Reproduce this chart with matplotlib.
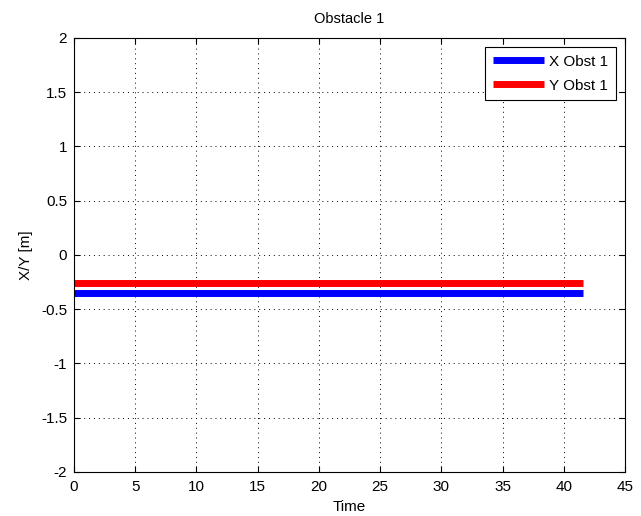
import matplotlib
matplotlib.use("Agg")
import matplotlib.pyplot as plt

plt.rcParams['font.family'] = ['Liberation Sans', 'DejaVu Sans']

t_range = [0, 41.6]
x_obst = [-0.35, -0.35]
y_obst = [-0.26, -0.26]
labels = ["X Obst 1", "Y Obst 1"]
xticks = [0, 5, 10, 15, 20, 25, 30, 35, 40, 45]
yticks = [-2, -1.5, -1, -0.5, 0, 0.5, 1, 1.5, 2]
ytick_labels = ["-2", "-1.5", "-1", "-0.5", "0", "0.5", "1", "1.5", "2"]

fig = plt.figure(figsize=(6.41, 5.16), dpi=100)
ax = fig.add_axes([0.1154, 0.0853, 0.8596, 0.8411])
ax.plot(t_range, x_obst, color='#0000ff', linewidth=5, solid_capstyle='butt', label=labels[0])
ax.plot(t_range, y_obst, color='#ff0000', linewidth=5, solid_capstyle='butt', label=labels[1])
ax.set_xlim(0, 45)
ax.set_ylim(-2, 2)
ax.set_xticks(xticks)
ax.set_yticks(yticks)
ax.set_yticklabels(ytick_labels)
ax.grid(True, color='black', linestyle=(0, (1, 4)), linewidth=0.7)
ax.tick_params(direction='in', labelsize=11, top=True, right=True, length=4)
ax.tick_params(axis='x', pad=6)
ax.tick_params(axis='y', pad=5)
for s in ax.spines.values():
    s.set_linewidth(0.8)
ax.set_xlabel("Time", fontsize=11, labelpad=4)
ax.set_ylabel("X/Y [m]", fontsize=11, labelpad=6)
ax.set_title("Obstacle 1", fontsize=10.5, pad=11)
leg = ax.legend(loc='upper right', fontsize=11, fancybox=False, framealpha=1,
                edgecolor='black', handlelength=3.4, borderaxespad=0.6,
                handletextpad=0.3, borderpad=0.5, labelspacing=0.65)
leg.get_frame().set_linewidth(0.8)
fig.savefig("out.png", dpi=100)
